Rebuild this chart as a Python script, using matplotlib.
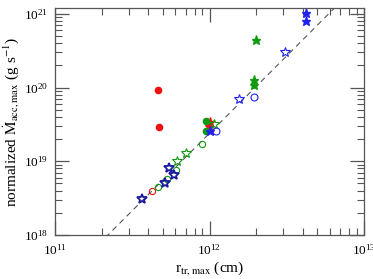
import matplotlib
matplotlib.use("Agg")
import matplotlib.pyplot as plt
import numpy as np
from matplotlib.ticker import LogLocator, NullFormatter

plt.rcParams['font.family'] = ['Liberation Serif', 'DejaVu Serif']
plt.rcParams['mathtext.fontset'] = 'stix'

# --- data (r_tr,max [cm], normalized Mdot_acc,max [g/s]) ---
red_filled_circle_r = [4.65e11, 4.7e11]
red_filled_circle_m = [9.3e19, 2.95e19]

red_filled_star_r = [1.0e12, 0.99e12]
red_filled_star_m = [3.45e19, 3.0e19]

red_open_circle_r = [4.27e11]
red_open_circle_m = [3.95e18]

green_filled_circle_r = [9.45e11, 9.45e11]
green_filled_circle_m = [3.56e19, 2.58e19]

green_filled_star_r = [1.99e12, 1.95e12, 1.95e12]
green_filled_star_m = [4.43e20, 1.27e20, 1.08e20]

green_open_star_r = [1.07e12, 7.0e11, 6.2e11]
green_open_star_m = [3.25e19, 1.31e19, 1.01e19]

green_open_circle_r = [8.9e11, 6.07e11, 5.28e11, 4.67e11]
green_open_circle_m = [1.70e19, 7.6e18, 5.75e18, 4.52e18]

blue_filled_star_r = [4.22e12, 4.22e12, 1.01e12]
blue_filled_star_m = [1.04e21, 8.1e20, 2.6e19]

blue_open_star_r = [3.1e12, 1.56e12]
blue_open_star_m = [3.04e20, 7.1e19]

blue_dark_star_r = [5.5e11, 5.9e11, 5.17e11, 3.64e11]
blue_dark_star_m = [8.0e18, 6.5e18, 5.0e18, 3.05e18]

blue_open_circle_r = [1.94e12, 1.1e12]
blue_open_circle_m = [7.4e19, 2.58e19]

# reference power-law line
line_slope = 2.1
line_norm = 2.4e19  # value at r = 1e12 cm

fig = plt.figure(figsize=(3.73, 2.79), dpi=100)
ax = fig.add_axes([55/373, 1-235/279, (364-55)/373, (235-8)/279])

ax.set_xscale('log')
ax.set_yscale('log')
ax.set_xlim(1e11, 1e13)
ax.set_ylim(1e18, 1.2e21)

lx = np.array([1e11, 1e13])
ax.plot(lx, line_norm*(lx/1e12)**line_slope, ls=(0, (5, 4)), color='#555555', lw=0.8, zorder=1)

ms = 4.5
red = '#ee1111'
green = '#119911'
blue = '#2222ee'
navy = '#1a1aa0'

ax.plot(red_filled_circle_r, red_filled_circle_m, 'o', color=red, ms=ms, mec=red, ls='none')
ax.plot(red_filled_star_r, red_filled_star_m, '*', color=red, ms=ms+2, mec=red, ls='none')
ax.plot(red_open_circle_r, red_open_circle_m, 'o', mfc='none', mec=red, ms=ms, mew=0.8, ls='none')
ax.plot(green_filled_circle_r, green_filled_circle_m, 'o', color=green, ms=ms, ls='none')
ax.plot(green_filled_star_r, green_filled_star_m, '*', color=green, ms=ms+2, ls='none')
ax.plot(green_open_star_r, green_open_star_m, '*', mfc='none', mec=green, ms=ms+3, mew=0.8, ls='none')
ax.plot(green_open_circle_r, green_open_circle_m, 'o', mfc='none', mec=green, ms=ms, mew=0.8, ls='none')
ax.plot(blue_filled_star_r, blue_filled_star_m, '*', color=blue, ms=ms+2, ls='none')
ax.plot(blue_open_star_r, blue_open_star_m, '*', mfc='none', mec=blue, ms=ms+3, mew=0.8, ls='none')
ax.plot(blue_dark_star_r, blue_dark_star_m, '*', mfc='none', mec=navy, ms=ms+3, mew=1.3, ls='none')
ax.plot(blue_open_circle_r, blue_open_circle_m, 'o', mfc='none', mec=blue, ms=ms+0.5, mew=0.8, ls='none')

for s in ax.spines.values():
    s.set_color('#555555')
    s.set_linewidth(0.9)

ax.xaxis.set_major_locator(LogLocator(base=10, numticks=10))
ax.xaxis.set_minor_locator(LogLocator(base=10, subs=np.arange(2, 10), numticks=10))
ax.yaxis.set_major_locator(LogLocator(base=10, numticks=10))
ax.yaxis.set_minor_locator(LogLocator(base=10, subs=np.arange(2, 10), numticks=10))
ax.xaxis.set_minor_formatter(NullFormatter())
ax.yaxis.set_minor_formatter(NullFormatter())

ax.tick_params(which='both', direction='in', top=True, right=True, color='#555555', labelsize=9.5)
ax.tick_params(which='major', length=10, width=0.9)
ax.tick_params(which='minor', length=5, width=0.8)
ax.tick_params(axis='x', which='major', pad=6)
ax.tick_params(axis='y', which='major', pad=5)

ax.set_xlabel(r'r$_{\rm tr,max}$ (cm)', fontsize=11, labelpad=0.5)
ax.set_ylabel(r'normalized $\dot{\rm M}_{\rm acc,max}$ (g s$^{-1}$)', fontsize=11, labelpad=1)

fig.savefig('out.png', dpi=100)
